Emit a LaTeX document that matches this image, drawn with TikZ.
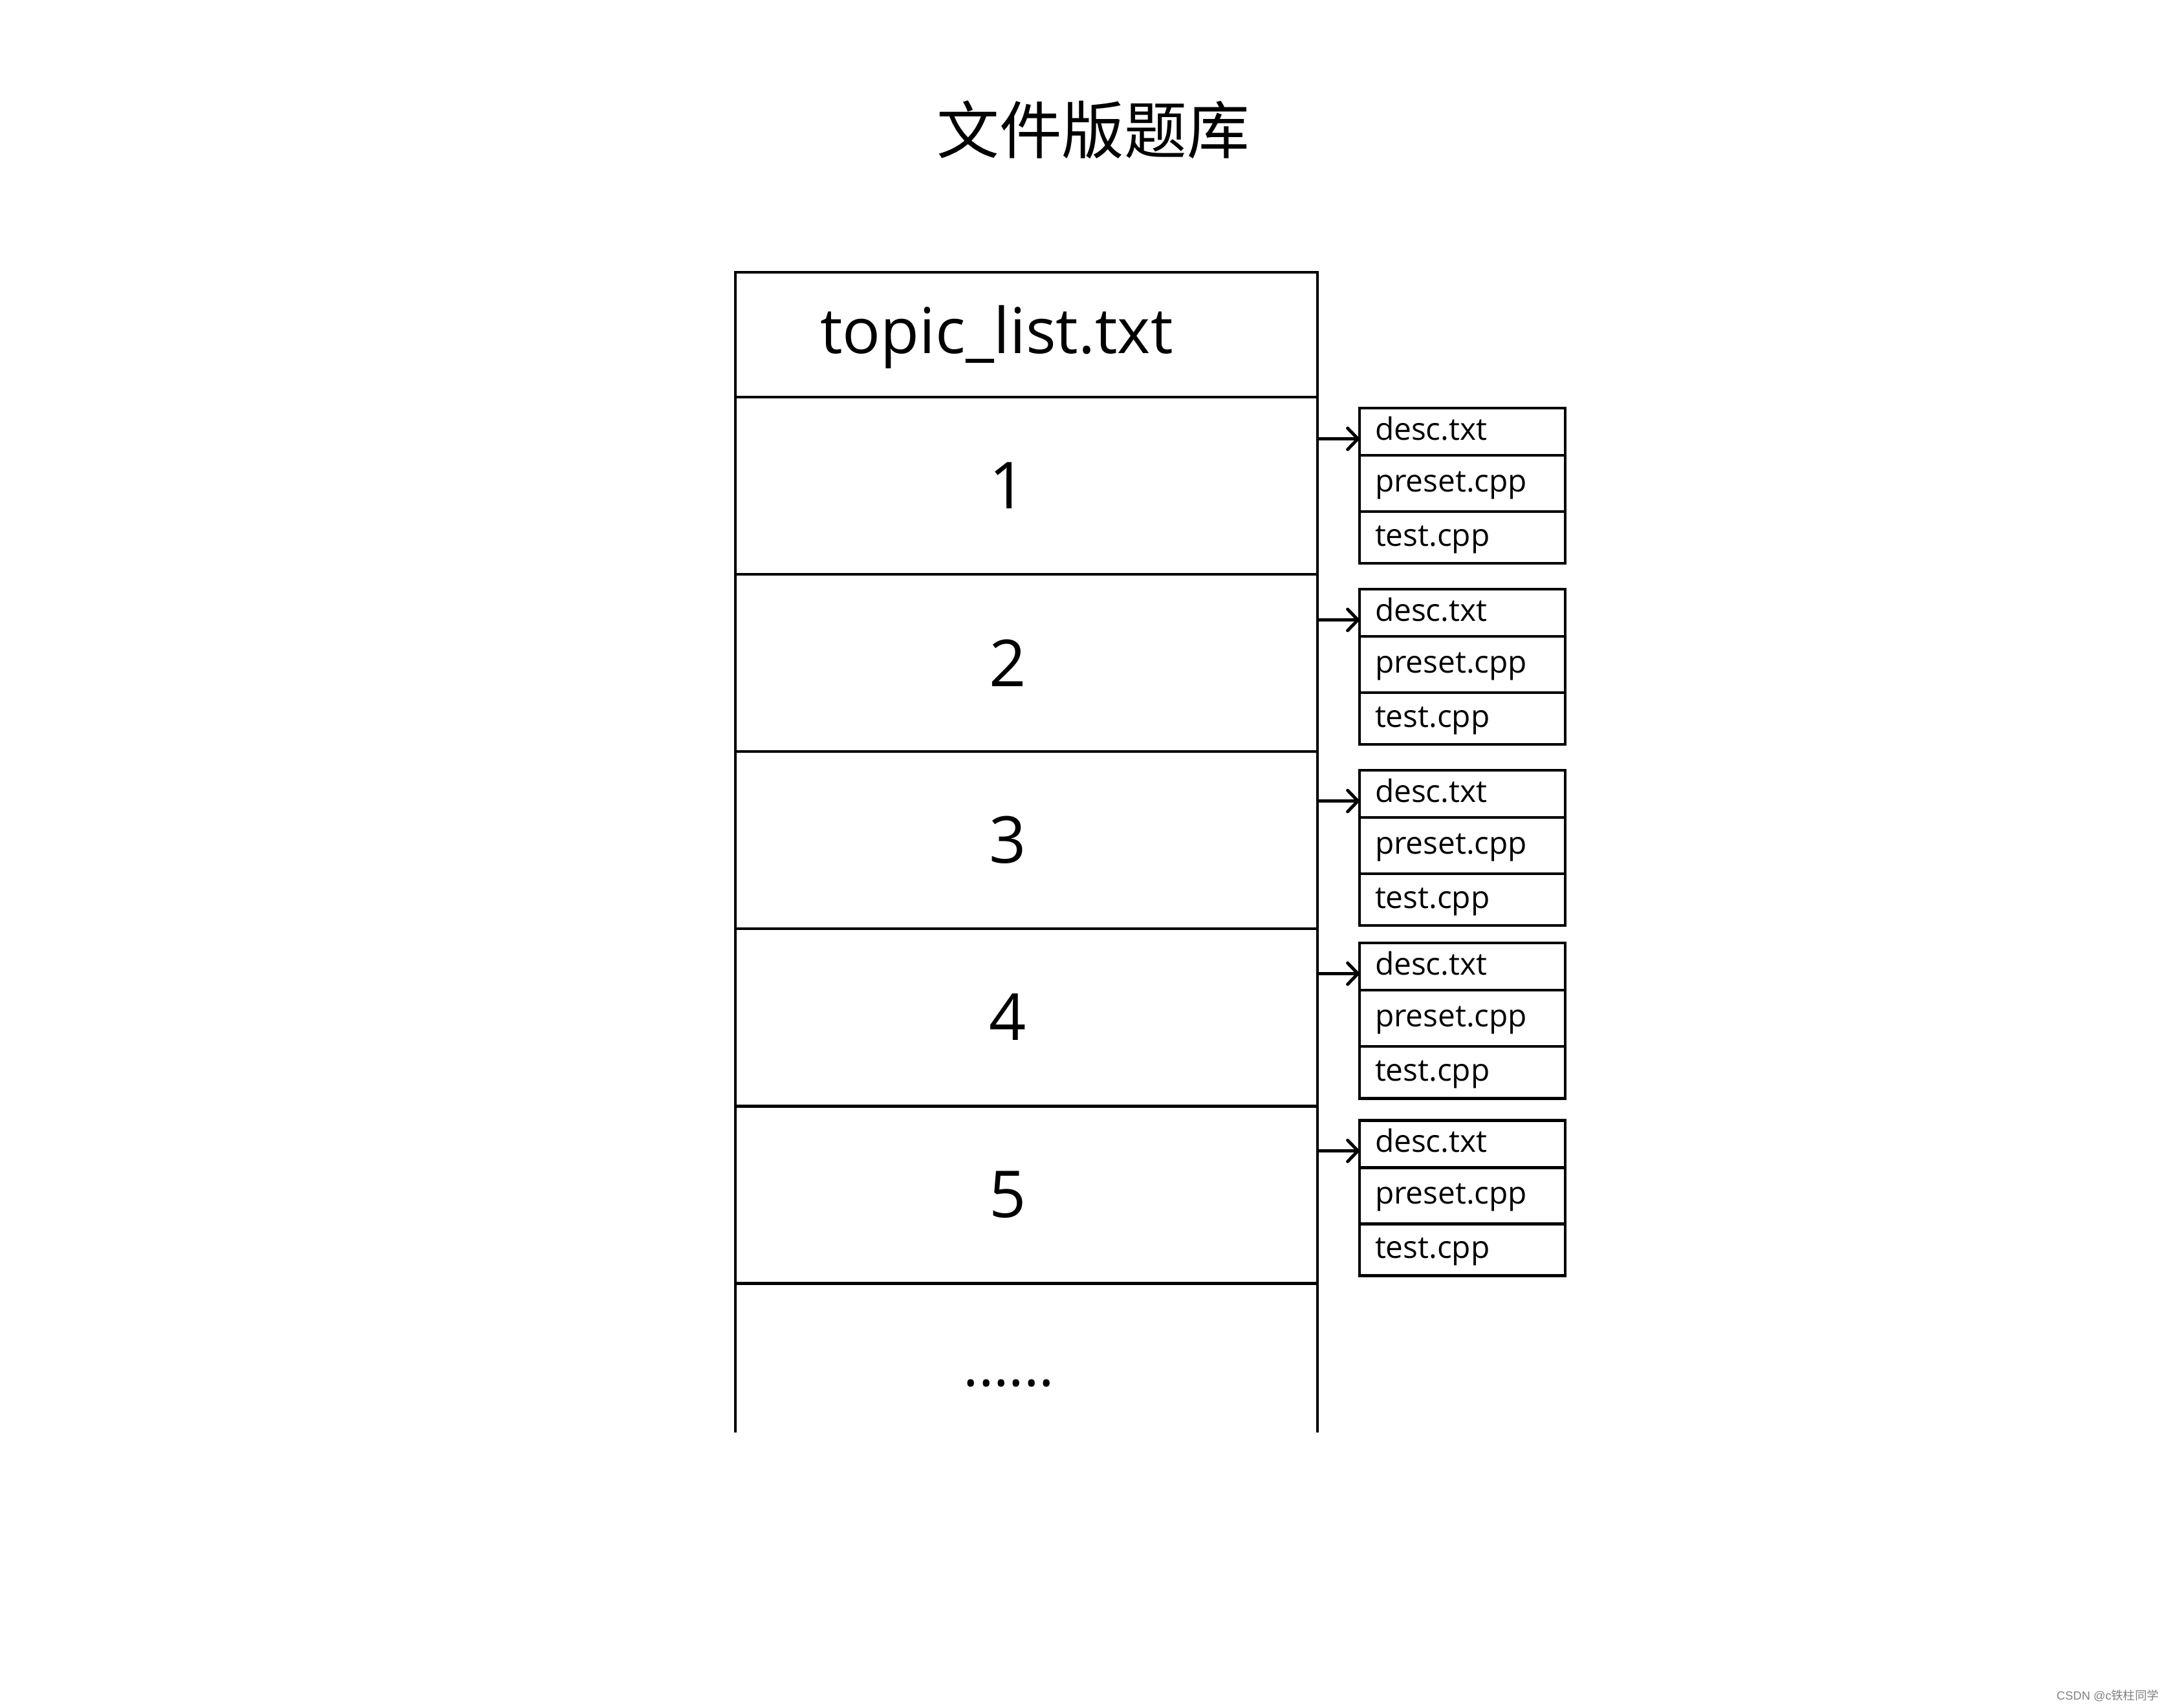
\documentclass[tikz,border=0pt]{standalone}
\usepackage{fontspec}
\setmainfont{Open Sans}
\newfontfamily\cjkfont{Noto Sans CJK SC}
\newfontfamily\wmfont{Liberation Sans}
\usetikzlibrary{arrows.meta, positioning, calc}

\begin{document}
\begin{tikzpicture}[>={Straight Barb[length=1.6mm, width=3.3mm, round]},
    cell/.style={draw, line width=1.4pt, outer sep=0pt, inner sep=0pt, minimum width=9cm},
    file/.style={draw, line width=1.4pt, outer sep=0pt, minimum width=3.18cm, text width=2.7cm,
      inner xsep=0.24cm, inner ysep=0pt, align=left, text height=0.38cm, text depth=0.12cm,
      font=\fontsize{13.6}{16}\selectfont},
    big/.style={font=\fontsize{28.5}{34}\selectfont}]
    \useasboundingbox (0,0) rectangle (33.52,-26.40);

    \node[font=\cjkfont\fontsize{27.5}{33}\selectfont] (title) at (16.90,-2.01) {文件版题库};

    % list file
    \node[cell, minimum height=1.93cm] (head) at (15.87,-5.175) {};
    \node[font=\fontsize{27.8}{34}\selectfont, anchor=base] (headtxt) at (15.41,-5.46) {topic\_list.txt};
    \foreach \i/\p in {1/head, 2/r1, 3/r2, 4/r3, 5/r4} {
      \node[cell, minimum height=2.74cm, below=0pt of \p] (r\i) {};
      \node[big] (n\i) at ([xshift=-0.29cm]r\i.center) {\i};
    }
    \coordinate (endl) at ([yshift=-2.31cm]r5.south west);
    \coordinate (endr) at ([yshift=-2.31cm]r5.south east);
    \draw[line width=1.4pt] (r5.south west) -- (endl);
    \draw[line width=1.4pt] (r5.south east) -- (endr);
    \node[font=\fontsize{25}{30}\selectfont] (more) at (15.60,-21.39) {......};

    % files of each topic
    \foreach \i/\y in {1/6.31, 2/9.11, 3/11.91, 4/14.58, 5/17.32} {
      \node[file, minimum height=0.73cm, anchor=north west] (d\i) at (21.02,-\y) {desc.txt};
      \node[file, minimum height=0.87cm, below=0pt of d\i] (p\i) {preset.cpp};
      \node[file, minimum height=0.80cm, below=0pt of p\i] (t\i) {test.cpp};
      \draw[->, line width=1.4pt] ([yshift=-0.11cm]d\i.west -| r\i.east) -- ([yshift=-0.11cm]d\i.west);
    }

    \node[font=\wmfont\fontsize{5.2}{6}\selectfont, text=black!50, anchor=east] (wm) at (33.50,-26.22) {CSDN @c{\cjkfont 铁柱同学}};
  \end{tikzpicture}
\end{document}
